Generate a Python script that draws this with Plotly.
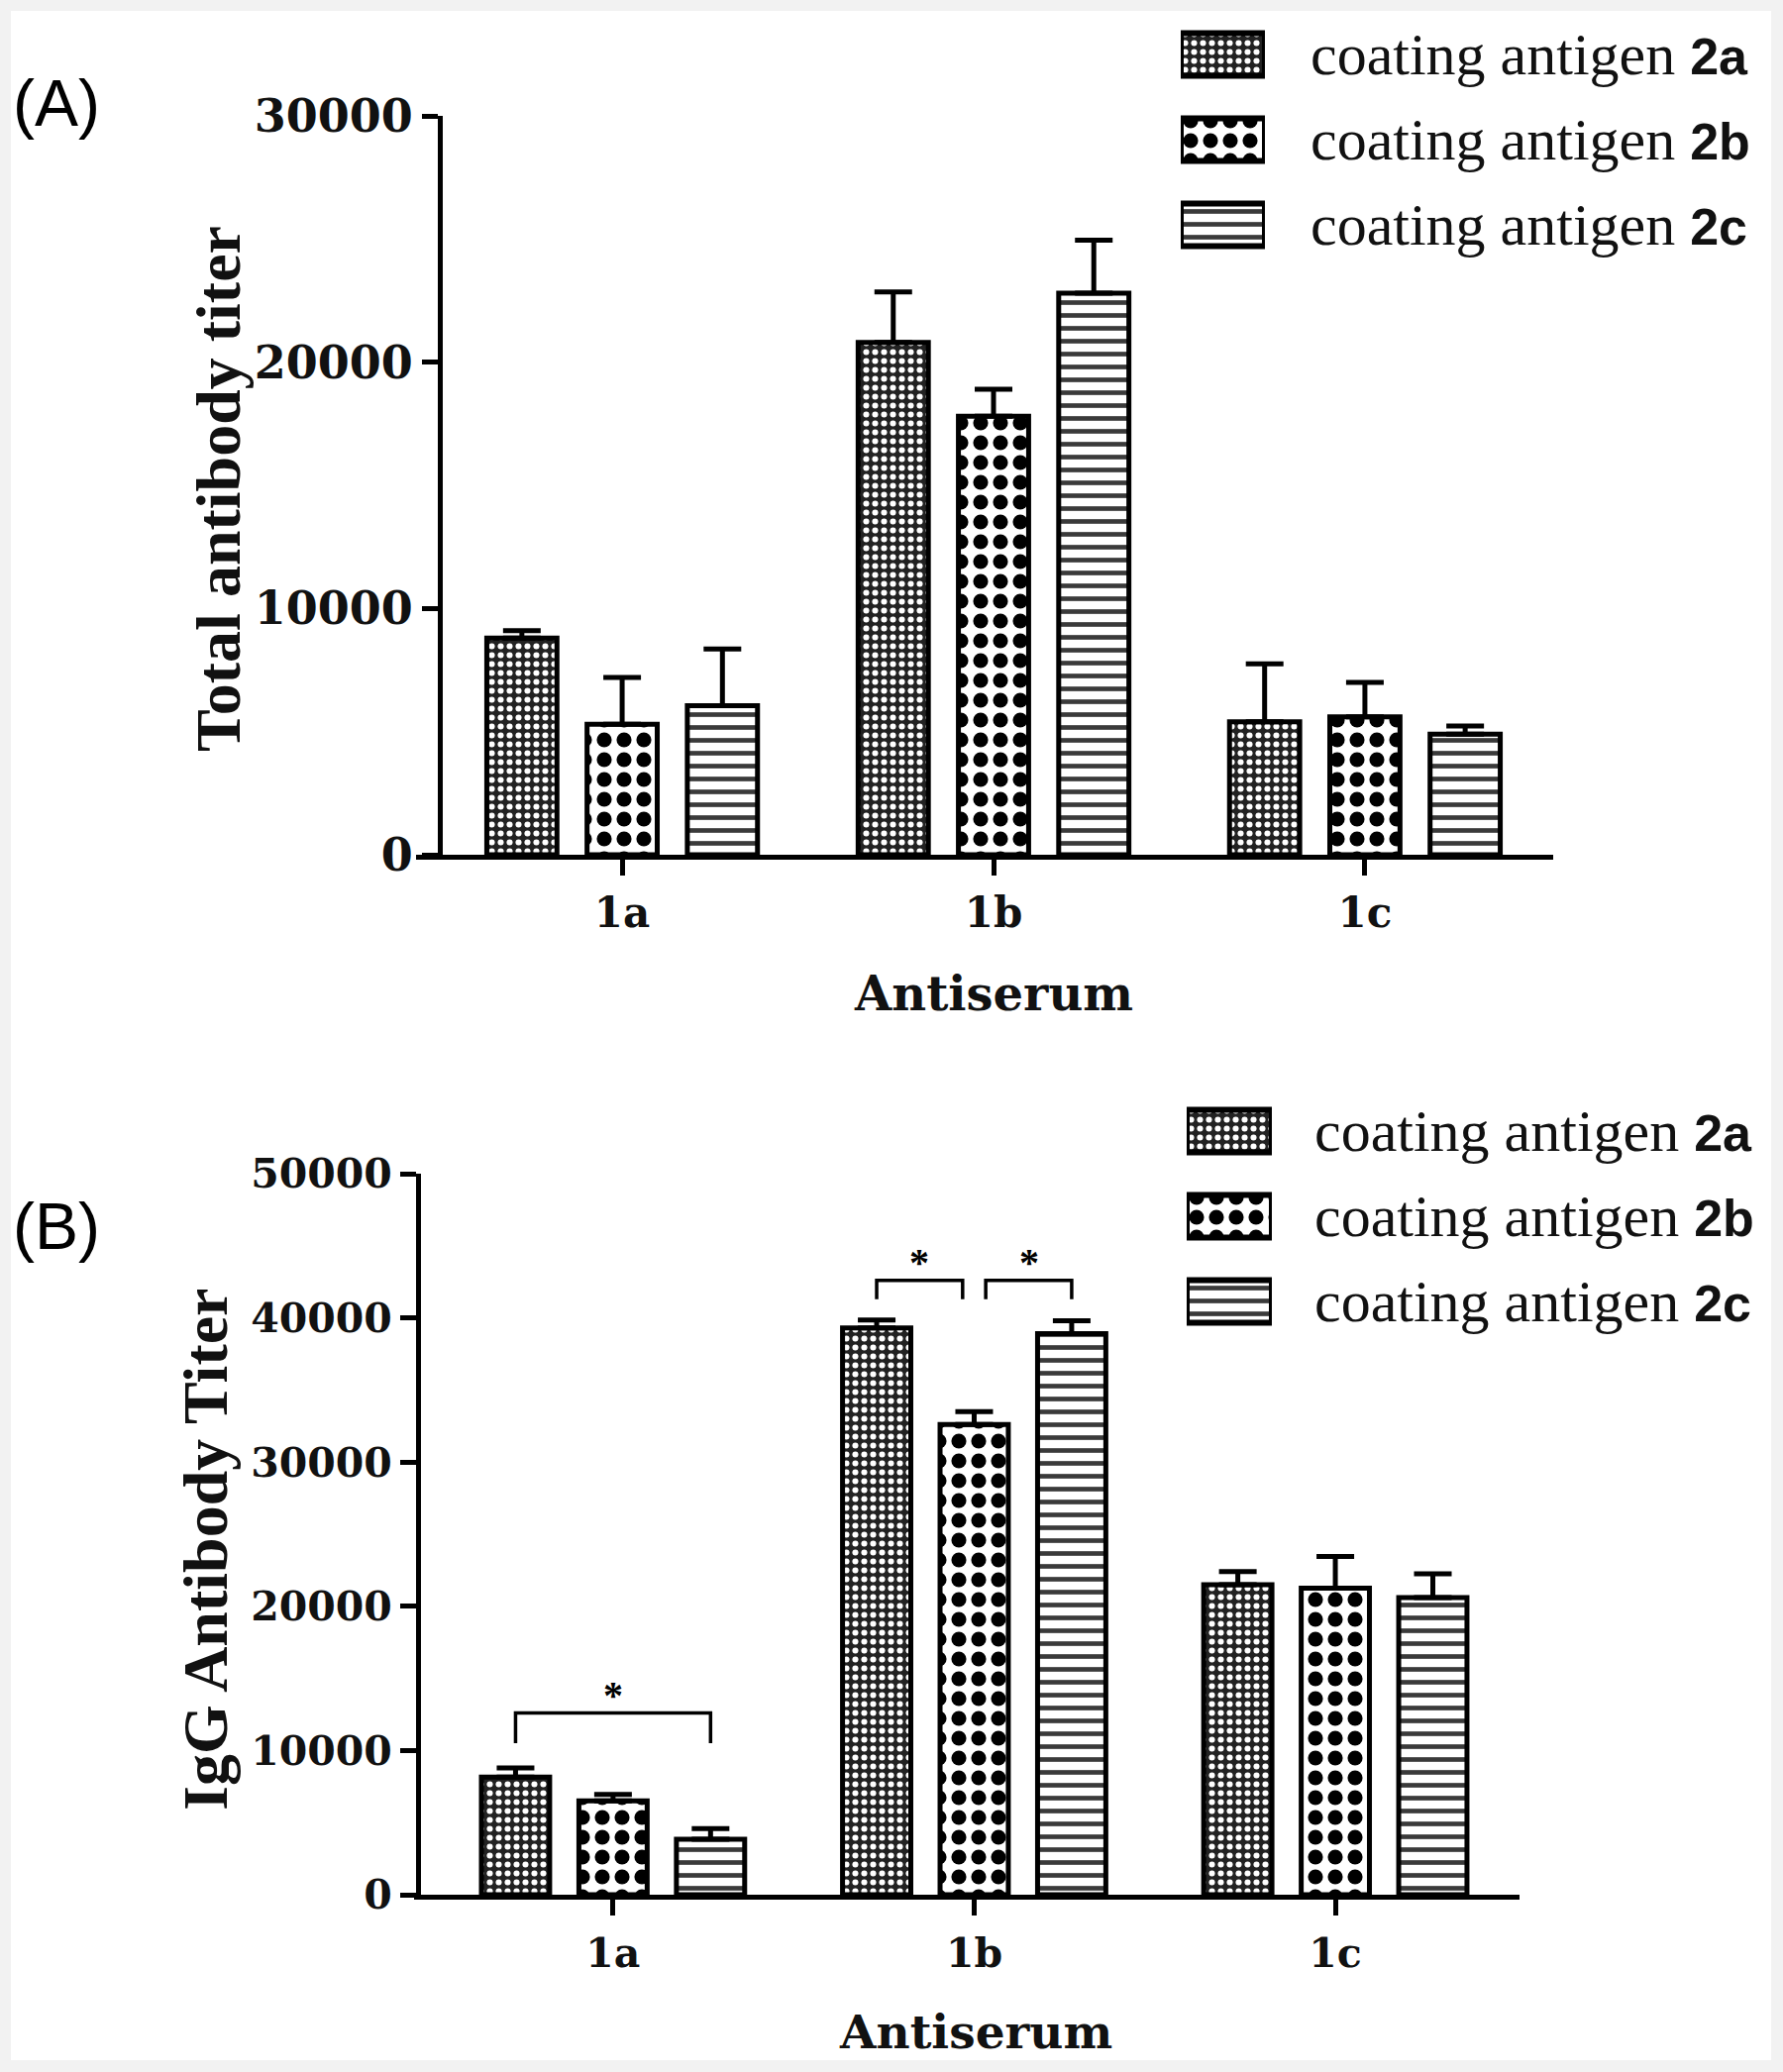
import plotly.graph_objects as go

# ---------------- data ----------------
categories = ["1a", "1b", "1c"]
series_prefix = "coating antigen"
series_labels = ["2a", "2b", "2c"]

# Panel A: total antibody titer (mean, upper SD)
total_2a = [8800, 20800, 5400]
total_2b = [5300, 17800, 5600]
total_2c = [6050, 22800, 4900]
total_err_2a = [300, 2050, 2350]
total_err_2b = [1900, 1100, 1400]
total_err_2c = [2300, 2150, 330]

# Panel B: IgG antibody titer
igg_2a = [8150, 39300, 21500]
igg_2b = [6500, 32600, 21250]
igg_2c = [3850, 38900, 20600]
igg_err_2a = [640, 550, 900]
igg_err_2b = [450, 900, 2200]
igg_err_2c = [730, 900, 1650]

total_ticks = [0, 10000, 20000, 30000]
igg_ticks = [0, 10000, 20000, 30000, 40000, 50000]

# significance brackets in panel B
sig_cat = [0, 1, 1]
sig_from = [0, 0, 1]
sig_to = [2, 1, 2]
sig_top = [12600, 42600, 42600]
sig_bottom = [10500, 41300, 41300]
sig_label = ["*", "*", "*"]

# ---------------- styling ----------------
W, H = 1800, 2092
BARGAP = 0.19
BARGROUPGAP = 0.3
SLOT = (1 - BARGAP) / 3


def px(x):
    return x / W


def py(y):
    return 1 - y / H


patterns = [
    dict(shape=".", bgcolor="#222222", fgcolor="white", size=9, solidity=0.36, fillmode="replace"),
    dict(shape=".", bgcolor="white", fgcolor="black", size=20, solidity=0.45, fillmode="replace"),
    dict(shape="-", bgcolor="white", fgcolor="#3a3a3a", size=13, solidity=0.36, fillmode="replace"),
]

xs = list(range(len(categories)))
fig = go.Figure()

panelA = [(total_2a, total_err_2a), (total_2b, total_err_2b), (total_2c, total_err_2c)]
panelB = [(igg_2a, igg_err_2a), (igg_2b, igg_err_2b), (igg_2c, igg_err_2c)]

for panel, xa, ya in ((panelA, "x", "y"), (panelB, "x2", "y2")):
    for (vals, errs), pat, lab in zip(panel, patterns, series_labels):
        fig.add_trace(go.Bar(
            x=xs, y=vals, xaxis=xa, yaxis=ya, name=f"{series_prefix} {lab}",
            marker=dict(color="white", pattern=pat, line=dict(color="black", width=5)),
            error_y=dict(type="data", array=errs, arrayminus=[0] * len(errs), symmetric=False,
                         color="black", thickness=5, width=19),
            showlegend=False, hoverinfo="skip"))

# custom legends (large patterned swatches)
for i, (pat, lab) in enumerate(zip(patterns, series_labels)):
    for xa, ya in (("x3", "y3"), ("x4", "y4")):
        fig.add_trace(go.Bar(
            x=[1], y=[i], base=0, orientation="h", xaxis=xa, yaxis=ya,
            width=0.5, offset=-0.25,
            marker=dict(color="white", pattern=pat, line=dict(color="black", width=6)),
            showlegend=False, hoverinfo="skip"))

annotations = []


def bar_pos(cat, k):
    return cat + (k - 1) * SLOT


TRIM = 0.032
for i in range(len(sig_cat)):
    x0 = bar_pos(sig_cat[i], sig_from[i])
    x1 = bar_pos(sig_cat[i], sig_to[i])
    for j in range(len(sig_cat)):
        if j != i and sig_cat[j] == sig_cat[i]:
            if sig_to[j] == sig_from[i]:
                x0 += TRIM
            if sig_from[j] == sig_to[i]:
                x1 -= TRIM
    fig.add_trace(go.Scatter(
        x=[x0, x0, x1, x1], y=[sig_bottom[i], sig_top[i], sig_top[i], sig_bottom[i]],
        xaxis="x2", yaxis="y2", mode="lines", line=dict(color="black", width=3.5),
        showlegend=False, hoverinfo="skip", cliponaxis=False))
    annotations.append(dict(
        x=(x0 + x1) / 2, y=sig_top[i], xref="x2", yref="y2", text=sig_label[i],
        showarrow=False, xanchor="center", yanchor="bottom", yshift=-6,
        font=dict(family="Liberation Serif", size=40, color="black", weight="bold")))

# legend text
legend_rows = {"A": [55, 141, 227], "B": [1142, 1228, 1314]}
legend_text_x = {"A": 1321, "B": 1325}
for key in ("A", "B"):
    for row, lab in zip(legend_rows[key], series_labels):
        annotations.append(dict(
            x=px(legend_text_x[key]), y=py(row), xref="paper", yref="paper",
            xanchor="left", yanchor="middle", showarrow=False,
            text=f"{series_prefix} <b><span style=\"font-family:Liberation Sans,Arial;font-size:52px\">{lab}</span></b>",
            font=dict(family="Liberation Serif", size=60, color="#111")))

# axis titles and panel labels
title_font_y = dict(family="Liberation Serif", size=64, color="#111", weight="bold")
title_font_x = dict(family="DejaVu Serif", size=48, color="#111", weight="bold")
centered = dict(xref="paper", yref="paper", showarrow=False, xanchor="center", yanchor="middle")
annotations += [
    dict(centered, x=px(220), y=py(494), text="Total antibody titer", textangle=-90, font=title_font_y),
    dict(centered, x=px(207), y=py(1564), text="IgG Antibody Titer", textangle=-90, font=title_font_y),
    dict(centered, x=px(1003), y=py(1003), text="Antiserum", font=title_font_x),
    dict(centered, x=px(985), y=py(2051), text="Antiserum", font=dict(title_font_x, size=47)),
    dict(centered, x=px(57), y=py(104), text="(A)",
         font=dict(family="Liberation Sans", size=66, color="black")),
    dict(centered, x=px(57), y=py(1238), text="(B)",
         font=dict(family="Liberation Sans", size=66, color="black")),
]

axis_common = dict(showline=True, linewidth=5, linecolor="black", ticks="outside",
                   ticklen=16, tickwidth=5, tickcolor="black", showgrid=False,
                   zeroline=False, fixedrange=True, automargin=False)
hidden = dict(visible=False, fixedrange=True, automargin=False)

fig.update_layout(
    width=W, height=H, margin=dict(l=0, r=0, t=0, b=0, pad=0, autoexpand=False),
    paper_bgcolor="#f2f2f2", plot_bgcolor="rgba(0,0,0,0)",
    barmode="group", bargap=BARGAP, bargroupgap=BARGROUPGAP,
    showlegend=False,
    xaxis=dict(axis_common, domain=[px(420), px(1568)], range=[-0.555, 2.507], anchor="y",
               tickvals=xs, ticktext=categories, ticklabelstandoff=2,
               tickfont=dict(family="DejaVu Serif", size=42, color="#111", weight="bold")),
    yaxis=dict(axis_common, domain=[py(863), py(117)], range=[0, 30000], anchor="free",
               position=px(444), tickvals=total_ticks, ticktext=[str(t) for t in total_ticks],
               tickfont=dict(family="DejaVu Serif", size=46, color="#111", weight="bold")),
    xaxis2=dict(axis_common, domain=[px(418), px(1534)], range=[-0.551, 2.51], anchor="y2",
                tickvals=xs, ticktext=categories, ticklabelstandoff=3,
                tickfont=dict(family="DejaVu Serif", size=41, color="#111", weight="bold")),
    yaxis2=dict(axis_common, domain=[py(1913), py(1185)], range=[0, 50000], anchor="free",
                position=px(422), tickvals=igg_ticks, ticktext=[str(t) for t in igg_ticks],
                tickfont=dict(family="DejaVu Serif", size=41, color="#111", weight="bold")),
    xaxis3=dict(hidden, domain=[px(1192), px(1277)], range=[0, 1], anchor="y3"),
    yaxis3=dict(hidden, domain=[py(270), py(12)], range=[2.5, -0.5], anchor="x3"),
    xaxis4=dict(hidden, domain=[px(1198), px(1284)], range=[0, 1], anchor="y4"),
    yaxis4=dict(hidden, domain=[py(1357), py(1099)], range=[2.5, -0.5], anchor="x4"),
    annotations=annotations,
    shapes=[dict(type="rect", xref="paper", yref="paper", x0=px(11), x1=px(1788),
                 y0=py(2080), y1=py(11), fillcolor="white", line=dict(width=0), layer="below")],
)

fig.write_html("out.html", config={"displayModeBar": False},
               post_script="document.body.style.margin='0';")
